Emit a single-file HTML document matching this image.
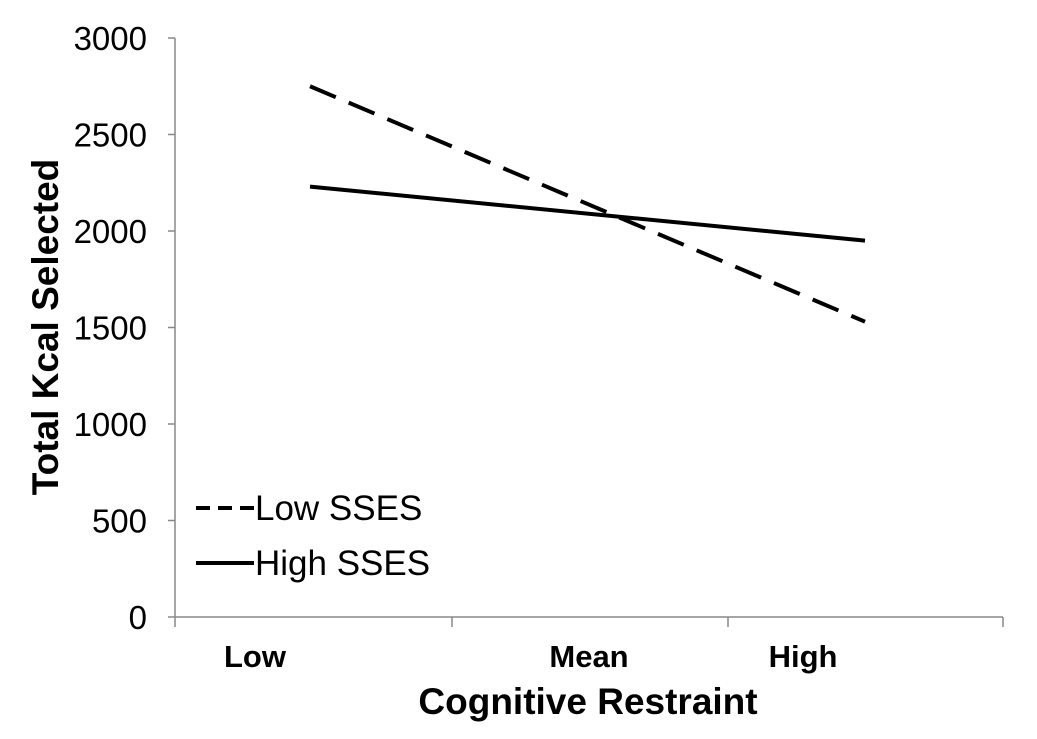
<!DOCTYPE html>
<html><head><meta charset="utf-8"><style>
body{margin:0;background:#fff;}
svg{display:block;font-family:"Liberation Sans",Arial,sans-serif;}
</style></head><body>
<svg id="chart" width="1037" height="739">
<g id="axes"></g>
<g id="series"></g>
<text x="588" y="714" font-size="37" font-weight="bold" text-anchor="middle">Cognitive Restraint</text>
<text transform="translate(58,327) rotate(-90)" font-size="37" font-weight="bold" text-anchor="middle">Total Kcal Selected</text>
<g>
<g>
<line x1="196" y1="508" x2="254" y2="508" stroke="#000" stroke-width="4" stroke-dasharray="14,8"/>
<text x="255" y="520" font-size="35">Low SSES</text></g>
<g>
<line x1="196" y1="563" x2="254" y2="563" stroke="#000" stroke-width="4"/>
<text x="255" y="575" font-size="35">High SSES</text></g>
</g>
</svg>
<script>
const categories=["Low","Mean","High"];
const yTicks=[0,500,1000,1500,2000,2500,3000];
const seriesNames=["Low SSES","High SSES"];
const lowSSES=[2750,1530];
const highSSES=[2230,1950];
const ns="http://www.w3.org/2000/svg";
const y0=617,yScale=(617-38)/3000;
const yPos=v=>y0-v*yScale;
const xPos=t=>310+t*(865-310);
const axes=document.getElementById('axes');
function mk(tag,attrs,parent){const e=document.createElementNS(ns,tag);for(const k in attrs)e.setAttribute(k,attrs[k]);parent.appendChild(e);return e;}
let l=mk('line',{x1:175,y1:38,x2:175,y2:617,stroke:'#888','stroke-width':1.5},axes);


l=mk('line',{x1:175,y1:617,x2:1003,y2:617,stroke:'#888','stroke-width':1.5},axes);


[175,452,728,1003].forEach(x=>{const t=mk('line',{x1:x,y1:617,x2:x,y2:627,stroke:'#888','stroke-width':1.5},axes);

});
yTicks.forEach(v=>{const t=mk('line',{x1:168,y1:yPos(v),x2:175,y2:yPos(v),stroke:'#888','stroke-width':1.5},axes);


const tx=mk('text',{x:147,y:yPos(v)+12,'font-size':33,'text-anchor':'end'},axes);tx.textContent=v;

});
const catX=[255,589,803];
categories.forEach((c,i)=>{const tx=mk('text',{x:catX[i],y:667,'font-size':31,'font-weight':'bold','text-anchor':'middle'},axes);tx.textContent=c;

});
const sg=document.getElementById('series');
let p=mk('line',{x1:xPos(0),y1:yPos(lowSSES[0]),x2:xPos(1),y2:yPos(lowSSES[1]),stroke:'#000','stroke-width':4,'stroke-dasharray':'28,14'},sg);


p=mk('line',{x1:xPos(0),y1:yPos(highSSES[0]),x2:xPos(1),y2:yPos(highSSES[1]),stroke:'#000','stroke-width':4},sg);


</script>
</body></html>
